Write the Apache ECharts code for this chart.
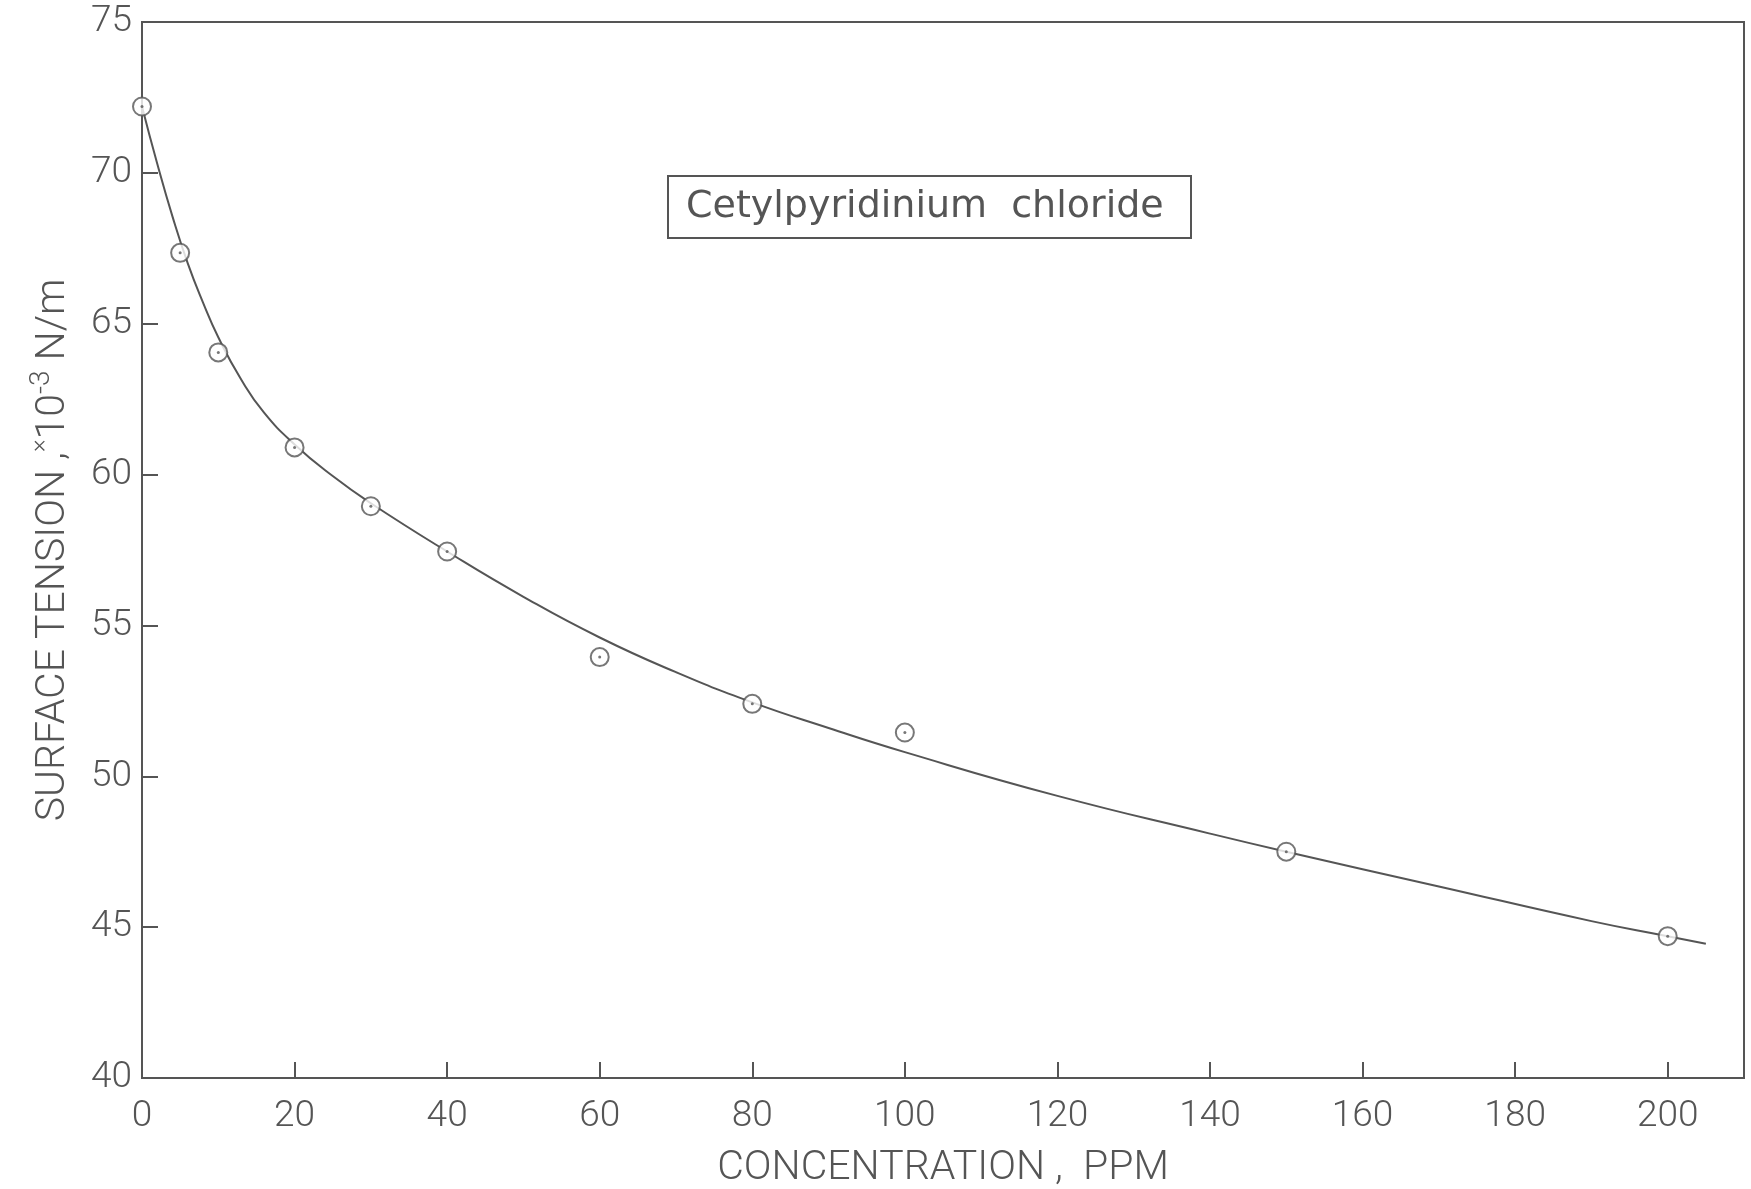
<!DOCTYPE html>
<html>
<head>
<meta charset="utf-8">
<script src="https://cdn.jsdelivr.net/npm/echarts@6/dist/echarts.min.js"></script>
<style>
  html, body { margin: 0; padding: 0; background: #fff; }
  #chart { width: 1751px; height: 1189px; }
</style>
</head>
<body>
<div id="chart"></div>
<script>
// measured points (concentration ppm, surface tension x10^-3 N/m)
var pointX = [0, 5, 10, 20, 30, 40, 60, 80, 100, 150, 200]
var pointY = [72.2, 67.35, 64.05, 60.9, 58.95, 57.45, 53.95, 52.4, 51.45, 47.5, 44.7]

// hand-drawn fitted curve
var curveX = [0, 2, 4, 6, 8, 10, 13, 16, 20, 25, 30, 40, 50, 60, 70, 80, 90, 100, 120, 140, 150, 170, 190, 200, 205]
var curveY = [72.2, 70.3, 68.55, 67.0, 65.7, 64.55, 63.15, 62.05, 61.0, 59.95, 59.05, 57.45, 55.95, 54.6, 53.45, 52.45, 51.6, 50.8, 49.35, 48.1, 47.5, 46.35, 45.2, 44.7, 44.45]

var ink = '#555'
var font = 'Roboto'

var chart = echarts.init(document.getElementById('chart'))

var points = pointX.map(function (x, i) { return [x, pointY[i]] })
var curve = curveX.map(function (x, i) { return [x, curveY[i]] })

chart.setOption({
  backgroundColor: '#fff',
  animation: false,
  title: {
    text: 'Cetylpyridinium  chloride',
    left: 668,
    top: 176,
    padding: [12, 28, 12, 18],
    borderWidth: 2,
    borderColor: ink,
    textStyle: {
      color: ink,
      fontFamily: 'DejaVu Sans',
      fontWeight: 'normal',
      fontSize: 38
    }
  },
  grid: {
    left: 142,
    right: 7,
    top: 22,
    bottom: 111,
    outerBoundsMode: 'none',
    show: true,
    borderColor: ink,
    borderWidth: 2
  },
  xAxis: {
    type: 'value',
    min: 0,
    max: 210,
    interval: 20,
    name: 'CONCENTRATION ,  PPM',
    nameLocation: 'middle',
    nameGap: 70,
    nameTextStyle: { color: ink, fontFamily: font, fontWeight: 300, fontSize: 41 },
    axisLine: { lineStyle: { color: ink, width: 2 } },
    axisTick: { inside: true, length: 16, lineStyle: { color: ink, width: 2 } },
    axisLabel: { color: ink, fontFamily: font, fontWeight: 300, fontSize: 37, margin: 20, showMaxLabel: false },
    splitLine: { show: false }
  },
  yAxis: {
    type: 'value',
    min: 40,
    max: 75,
    interval: 5,
    name: 'SURFACE TENSION ,{x|×}10{s|-3} N/m',
    nameLocation: 'middle',
    nameGap: 62,
    nameTextStyle: {
      color: ink, fontFamily: font, fontWeight: 300, fontSize: 41,
      rich: {
        x: { color: ink, fontFamily: font, fontWeight: 300, fontSize: 24, verticalAlign: 'top', lineHeight: 40 },
        s: { color: ink, fontFamily: font, fontWeight: 300, fontSize: 28, padding: [0, 0, 24, 0] }
      }
    },
    axisLine: { lineStyle: { color: ink, width: 2 } },
    axisTick: { inside: true, length: 16, lineStyle: { color: ink, width: 2 } },
    axisLabel: { color: ink, fontFamily: font, fontWeight: 300, fontSize: 37, margin: 10 },
    splitLine: { show: false }
  },
  series: [
    {
      type: 'line',
      data: curve,
      smooth: 0.5,
      showSymbol: false,
      lineStyle: { color: ink, width: 2 },
      z: 2
    },
    {
      type: 'scatter',
      data: points,
      symbol: 'emptyCircle',
      symbolSize: 18,
      itemStyle: { color: ink, borderColor: ink, borderWidth: 3 },
      z: 3
    },
    {
      type: 'scatter',
      data: points,
      symbol: 'circle',
      symbolSize: 3,
      itemStyle: { color: ink },
      z: 4
    }
  ]
})
</script>
</body>
</html>
